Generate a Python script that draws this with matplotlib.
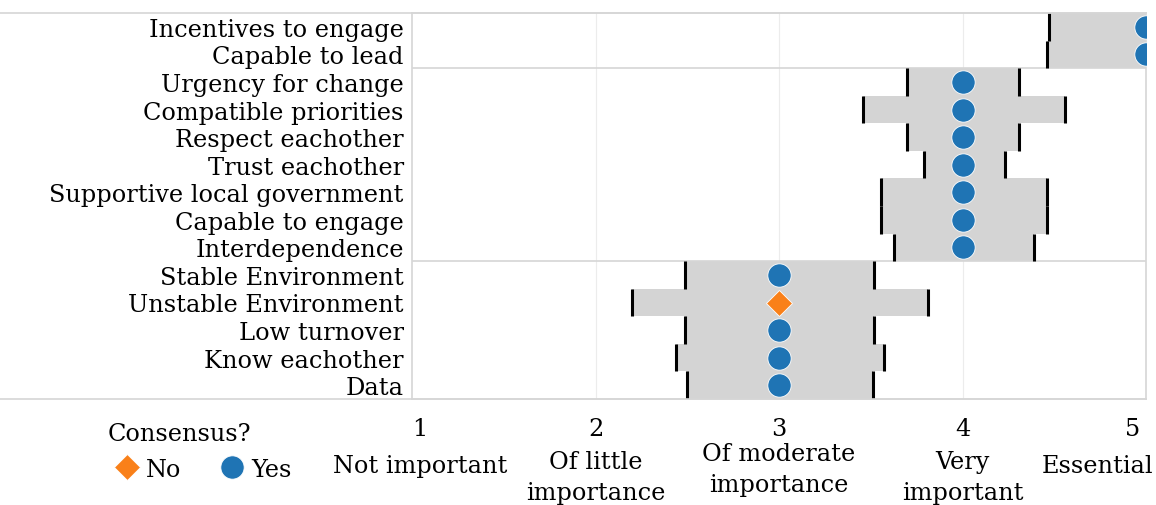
import matplotlib
matplotlib.use("Agg")
import matplotlib.pyplot as plt
import matplotlib.transforms as mtransforms
from matplotlib.lines import Line2D
import numpy as np

# ---------------- data ----------------
factors = ["Incentives to engage", "Capable to lead", "Urgency for change",
           "Compatible priorities", "Respect eachother", "Trust eachother",
           "Supportive local government", "Capable to engage", "Interdependence",
           "Stable Environment", "Unstable Environment", "Low turnover",
           "Know eachother", "Data"]
median = [5, 5, 4, 4, 4, 4, 4, 4, 4, 3, 3, 3, 3, 3]
low = [4.47, 4.46, 3.70, 3.46, 3.70, 3.79, 3.555, 3.555, 3.625,
       2.49, 2.20, 2.49, 2.44, 2.50]
high = [5.53, 5.54, 4.31, 4.56, 4.31, 4.23, 4.46, 4.46, 4.39,
        3.52, 3.81, 3.52, 3.57, 3.51]
consensus = ["Yes", "Yes", "Yes", "Yes", "Yes", "Yes", "Yes", "Yes", "Yes",
             "Yes", "No", "Yes", "Yes", "Yes"]
group_breaks = [1.5, 8.5]
scale_values = [1, 2, 3, 4, 5]
scale_numbers = ["1", "2", "3", "4", "5"]
scale_labels = ["Not important", "Of little\nimportance", "Of moderate\nimportance",
                "Very\nimportant", "Essential"]

# ---------------- style ----------------
FONT = "DejaVu Serif"
FS = 17.3
plt.rcParams["font.family"] = [FONT]
BLUE = "#1f74b4"
ORANGE = "#f98019"
BARGREY = "#d4d4d4"
LINEGREY = "#d6d6d6"

W, H = 1156, 506
fig = plt.figure(figsize=(W / 100, H / 100), dpi=100)
ax_l, ax_r, ax_t, ax_b = 412, 1146, 14, 400
ax = fig.add_axes([ax_l / W, 1 - ax_b / H, (ax_r - ax_l) / W, (ax_b - ax_t) / H])

y = np.arange(len(factors))
low_a = np.array(low)
high_a = np.array(high)

ax.barh(y, high_a - low_a, left=low_a, height=1.0, color=BARGREY, zorder=1)
ax.vlines(low_a, y - 0.5, y + 0.5, color="black", lw=2.2, zorder=3)
ax.vlines(high_a, y - 0.5, y + 0.5, color="black", lw=2.2, zorder=3)

med = np.array(median, dtype=float)
cons = np.array(consensus)
yes = cons == "Yes"
no = cons == "No"
ax.plot(med[no], y[no], ls="none", marker="D", ms=13.2, color=ORANGE,
        mec="white", mew=0.6, zorder=4, label="No")
ax.plot(med[yes], y[yes], ls="none", marker="o", ms=16.8, color=BLUE,
        mec="white", mew=0.6, zorder=4, label="Yes")

for gb in group_breaks:
    ax.axhline(gb, color=LINEGREY, lw=1.2, zorder=2)

ax.set_xlim(1, 5)
ax.set_ylim(len(factors) - 0.5, -0.5)
ax.set_xticks(scale_values[1:-1])
ax.tick_params(axis="x", length=0, labelbottom=False)
ax.grid(axis="x", color="#ececec", lw=0.8, zorder=0)
ax.set_axisbelow(True)
ax.set_yticks(y)
ax.set_yticklabels(factors, fontsize=FS)
ax.tick_params(axis="y", length=0, pad=6)
for s in ax.spines.values():
    s.set_color(LINEGREY)
    s.set_linewidth(1.2)

# full-width top/bottom rules
bt = mtransforms.blended_transform_factory(fig.transFigure, ax.transAxes)
for yy in (0, 1):
    fig.add_artist(Line2D([0, ax_r / W], [yy, yy], transform=bt,
                          color=LINEGREY, lw=1.2))

# bottom scale labels
tb = mtransforms.blended_transform_factory(ax.transData, fig.transFigure)
num_dx = [8, 0, 0, 0, -13]          # pixel offsets
lab_dx = [8, 0, 0, 0, 7]
lab_ha = ["center", "center", "center", "center", "right"]
lab_y = [467, 478, 470, 478, 467]
for v, n, lab, ndx, ldx, ly, ha in zip(scale_values, scale_numbers, scale_labels,
                                       num_dx, lab_dx, lab_y, lab_ha):
    t1 = tb + mtransforms.Affine2D().translate(ndx, 0)
    ax.text(v, 1 - 430 / H, n, transform=t1, ha="center", va="center",
            fontsize=FS, clip_on=False)
    t2 = tb + mtransforms.Affine2D().translate(ldx, 0)
    ax.text(v, 1 - ly / H, lab, transform=t2, ha=ha, va="center",
            fontsize=FS, linespacing=1.4, clip_on=False, multialignment="center")

handles, labels = ax.get_legend_handles_labels()
leg = fig.legend(handles, labels, title="Consensus?", ncol=2, frameon=False,
                 loc="upper left", bbox_to_anchor=(86 / W, 1 - 401 / H),
                 fontsize=FS, title_fontsize=FS, handletextpad=0.0,
                 columnspacing=1.3, handlelength=1.6, alignment="left",
                 markerscale=1.0, labelspacing=0.55)

fig.savefig("out.png", dpi=100)
